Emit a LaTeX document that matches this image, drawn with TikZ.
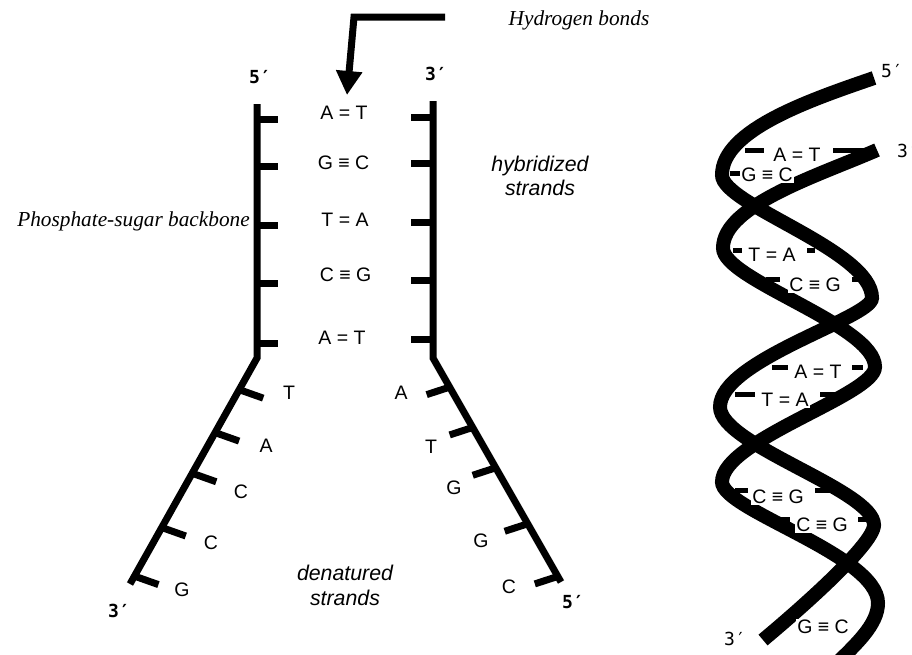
\documentclass[tikz,border=0pt]{standalone}
\usepackage{fontspec}
\setmainfont{Liberation Serif}
\setsansfont{Liberation Sans}
\newfontfamily\primefont{DejaVu Sans Mono}
\usetikzlibrary{arrows.meta,calc}

\begin{document}
\begin{tikzpicture}[x=1pt,y=-1pt,
  backbone/.style={line width=7pt, line join=miter},
  stub/.style={line width=7pt},
  coil/.style={line width=14pt},
  rung/.style={line width=5pt},
  pair/.style={font=\sffamily\fontsize{19.5}{22}\selectfont, inner sep=0pt},
  hpair/.style={pair, fill=white, inner xsep=1.5pt, inner ysep=1pt},
  endlabel/.style={font=\primefont\bfseries\fontsize{18}{20}\selectfont, inner sep=0pt, anchor=base west},
  hend/.style={font=\primefont\fontsize{18}{20}\selectfont, inner sep=0pt, anchor=base west},
  note/.style={font=\itshape\fontsize{21.3}{24}\selectfont, inner sep=0pt},
  snote/.style={font=\sffamily\itshape\fontsize{21.3}{24}\selectfont, inner sep=0pt, anchor=base},
]
\useasboundingbox (0,0) rectangle (912,654);

% ---------- ladder: left backbone (5' top, 3' bottom) ----------
\coordinate (L5) at (257,104);
\coordinate (Lk) at (257,358);
\coordinate (L3) at (130,584);
\draw[backbone] (L5) -- (Lk) -- (L3);
\foreach \y in {119,166,225,283,343}
  \draw[stub] (257,\y) -- ++(21,0);
\foreach \t in {0.14,0.33,0.51,0.75,0.965}
  \draw[stub] ($(Lk)!\t!(L3)$) -- ++(24,8.5);

% ---------- ladder: right backbone (3' top, 5' bottom) ----------
\coordinate (R3) at (433,101);
\coordinate (Rk) at (433,358);
\coordinate (R5) at (561,582);
\draw[backbone] (R3) -- (Rk) -- (R5);
\foreach \y in {117,163,222,280,339}
  \draw[stub] (433,\y) -- ++(-22,0);
\foreach \t in {0.13,0.31,0.49,0.74,0.975}
  \draw[stub] ($(Rk)!\t!(R5)$) -- ++(-23,7.5);

% paired bases
\node[pair] (p1) at (344,112.5) {A = T};
\node[pair] (p2) at (343.5,162.7) {G ≡ C};
\node[pair] (p3) at (345,220) {T = A};
\node[pair] (p4) at (345.5,275) {C ≡ G};
\node[pair] (p5) at (342,337.5) {A = T};

% unpaired bases
\node[pair] (l1) at (289,393) {T};
\node[pair] (l2) at (266,446) {A};
\node[pair] (l3) at (241,492) {C};
\node[pair] (l4) at (211,543) {C};
\node[pair] (l5) at (182,590) {G};
\node[pair] (r1) at (401,393) {A};
\node[pair] (r2) at (431,447) {T};
\node[pair] (r3) at (454,488) {G};
\node[pair] (r4) at (481,541) {G};
\node[pair] (r5) at (509,587) {C};

% strand ends
\node[endlabel] (e5a) at (249,83) {5′};
\node[endlabel] (e3a) at (425,80) {3′};
\node[endlabel] (e3b) at (108,617) {3′};
\node[endlabel] (e5b) at (562,608) {5′};

% labels
\node[note, anchor=base] (hb) at (579,25) {Hydrogen bonds};
\node[note, anchor=base east] (psb) at (250,226.5) {Phosphate-sugar backbone};
\node[snote] (hy1) at (540,171.7) {hybridized};
\node[snote] (hy2) at (540,195) {strands};
\node[snote] (de1) at (345,580) {denatured};
\node[snote] (de2) at (345,605) {strands};

% pointer to the hydrogen bonds
\coordinate (hbtail) at (445,17);
\coordinate (hbbend) at (354,17);
\draw[line width=7pt, line join=miter, -{Triangle[length=24pt,width=25pt]}]
  (hbtail) -- (hbbend) -- (347,95);

% ---------- double helix ----------
\draw[coil] (874,78) .. controls (810,100) and (722,130) .. (722,175)
  .. controls (722,205) and (872,250) .. (872,298)
  .. controls (872,318) and (720,360) .. (720,407)
  .. controls (720,445) and (874,490) .. (874,525)
  .. controls (874,545) and (793,615) .. (763,640);
\draw[coil] (877,150) .. controls (820,175) and (723,205) .. (723,248)
  .. controls (723,280) and (875,325) .. (875,367)
  .. controls (875,395) and (722,440) .. (722,482)
  .. controls (722,510) and (878,555) .. (878,603)
  .. controls (878,625) and (855,645) .. (835,665);

% base-pair rungs
\foreach \y/\a/\b/\c/\d in {150/745/764/833/875, 173/730/740/808/817,
    250/733/742/807/815, 279/766/780/852/863, 367/772/788/852/863,
    394/735/755/820/843, 490/735/748/815/830, 519/772/790/858/866}
  { \draw[rung] (\a,\y) -- (\b,\y); \draw[rung] (\c,\y) -- (\d,\y); }

\node[hpair] (h1) at (797,155) {A = T};
\node[hpair] (h2) at (767,175) {G ≡ C};
\node[hpair] (h3) at (772,255) {T = A};
\node[hpair] (h4) at (815,285) {C ≡ G};
\node[hpair] (h5) at (818,372) {A = T};
\node[hpair] (h6) at (785,400) {T = A};
\node[hpair] (h7) at (778,497) {C ≡ G};
\node[hpair] (h8) at (822,525) {C ≡ G};
\node[hpair] (h9) at (823,627) {G ≡ C};

\node[hend] (h5e) at (881,77) {5′};
\node[hend] (h3e) at (897,157) {3′};
\node[hend] (h3b) at (724,645) {3′};
\end{tikzpicture}
\end{document}
